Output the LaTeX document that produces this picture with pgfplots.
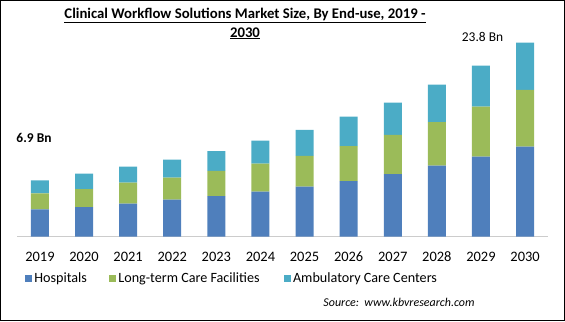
\documentclass[border=0pt]{standalone}
\usepackage{pgfplots}
\pgfplotsset{compat=1.18}
\usepackage{fontspec}
\setmainfont{Carlito}
\definecolor{cHosp}{HTML}{4F7FBC}
\definecolor{cLong}{HTML}{9BBB59}
\definecolor{cAmb}{HTML}{4BACC6}
\begin{document}
\begin{tikzpicture}[x=1bp,y=1bp]
\useasboundingbox (0,0) rectangle (565,321);
\begin{axis}[
  at={(17bp,84.3bp)}, anchor=south west,
  scale only axis, width=531bp, height=196.7bp,
  ybar stacked, bar width=18bp,
  xmin=-0.52, xmax=11.52, ymin=0, ymax=24.13,
  axis y line=none, axis x line*=bottom,
  x axis line style={draw=black!20, line width=1bp, -},
  xtick=data, xticklabels={2019,2020,2021,2022,2023,2024,2025,2026,2027,2028,2029,2030},
  major tick length=0pt,
  xticklabel style={font=\fontsize{14.5}{15}\selectfont, anchor=center, yshift=-20bp},
  legend style={at={(0.015,-0.212)}, anchor=west, draw=none, fill=none,
    font=\fontsize{14.2}{15}\selectfont, inner sep=0pt,
    nodes={inner xsep=2.2bp, inner ysep=1bp}},
  legend columns=3, legend cell align=left,
  legend image code/.code={\fill[#1] (0bp,-3.5bp) rectangle (7bp,3.5bp);},
]
\addplot[fill=cHosp, draw=none] coordinates {(0,3.35)(1,3.64)(2,4.05)(3,4.54)(4,4.99)(5,5.52)(6,6.14)(7,6.83)(8,7.69)(9,8.71)(10,9.82)(11,11.04)};
\addplot[fill=cLong, draw=none] coordinates {(0,1.98)(1,2.21)(2,2.58)(3,2.70)(4,3.07)(5,3.44)(6,3.77)(7,4.29)(8,4.79)(9,5.36)(10,6.14)(11,6.96)};
\addplot[fill=cAmb, draw=none] coordinates {(0,1.57)(1,1.88)(2,1.96)(3,2.21)(4,2.45)(5,2.82)(6,3.19)(7,3.60)(8,3.96)(9,4.58)(10,5.03)(11,5.80)};
\legend{Hospitals\hspace*{20bp}, Long-term Care Facilities\hspace*{22bp}, Ambulatory Care Centers}
\end{axis}
\node[align=center, font=\fontsize{14.8}{19}\selectfont\bfseries] at (245,297.5)
  {\underline{Clinical Workflow Solutions Market Size, By End-use, 2019 -}\\\underline{2030}};
\node[font=\fontsize{13.5}{14}\selectfont\bfseries] at (34,183) {6.9 Bn};
\node[font=\fontsize{13.5}{14}\selectfont] at (482.5,284) {23.8 Bn};
\node[font=\fontsize{12}{14}\selectfont\itshape, anchor=east] at (478,19) {Source:\ \ www.kbvresearch.com};
\draw[line width=1.2bp] (0.6,0.6) rectangle (564.4,320.4);
\end{tikzpicture}
\end{document}
